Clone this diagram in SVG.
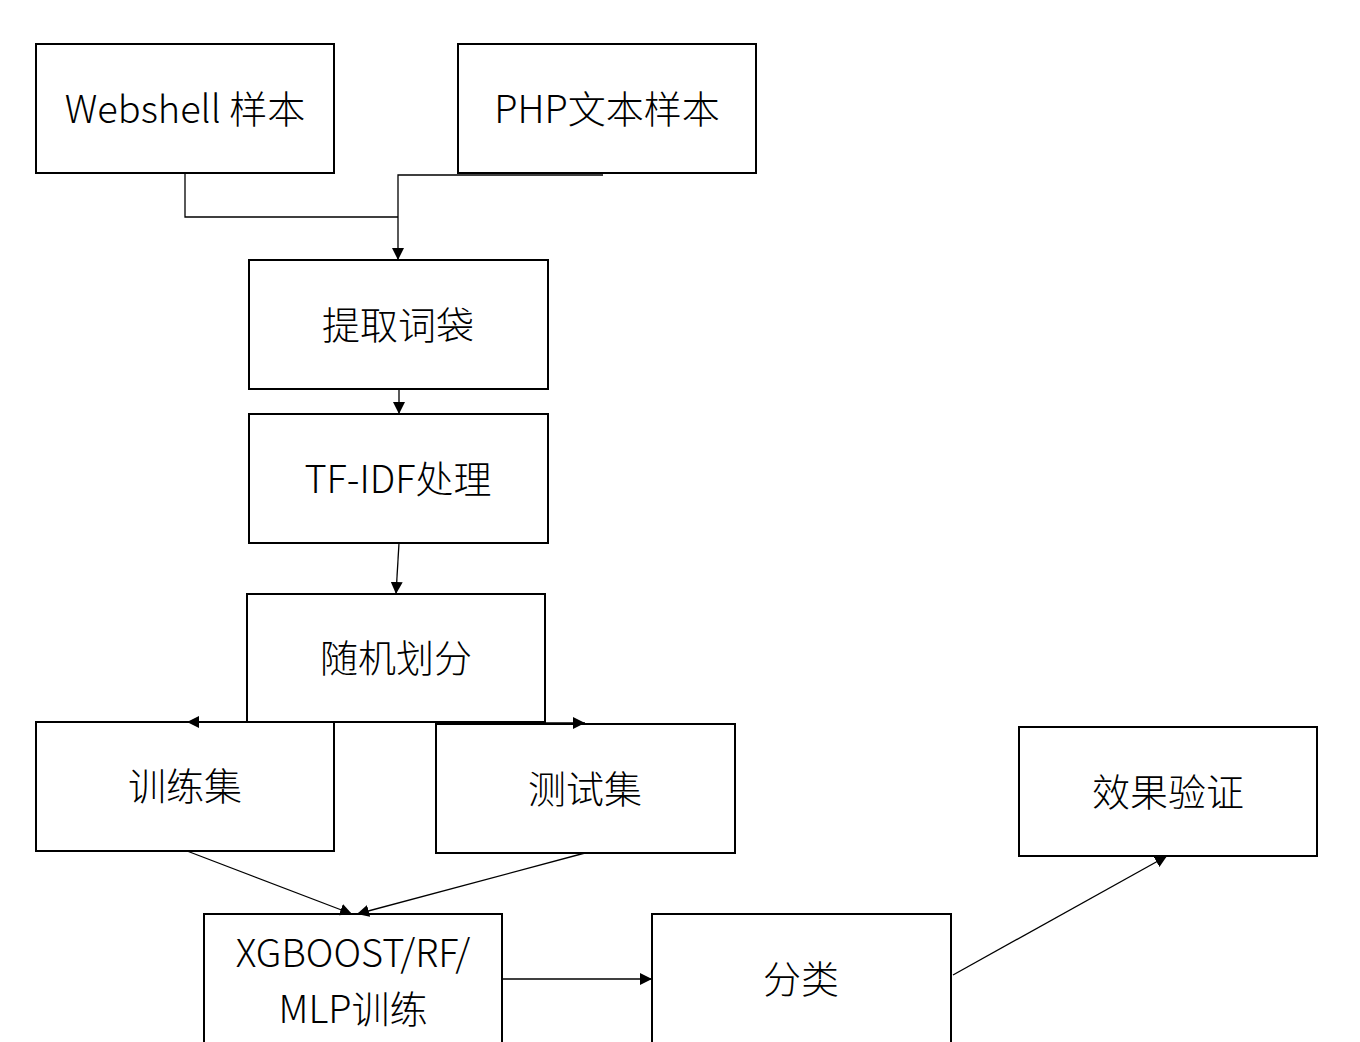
<svg xmlns="http://www.w3.org/2000/svg" width="1360" height="1042" viewBox="0 0 1360 1042">
<style>
.box{fill:#fff;stroke:#000;stroke-width:2}
.lbl{font-family:"Noto Sans CJK SC","Noto Sans",sans-serif;font-size:38px;font-weight:300;fill:#000;text-anchor:middle;dominant-baseline:central}
.c{fill:none;stroke:#000;stroke-width:1.3}
</style>
<defs>
<marker id="ah" viewBox="0 0 10 10" refX="10" refY="5" markerWidth="12" markerHeight="12" markerUnits="userSpaceOnUse" orient="auto">
<path d="M0,0 L10,5 L0,10 z" fill="#000"/>
</marker>
</defs>
<rect width="1360" height="1042" fill="#fff"/>
<g id="n1"><rect class="box" x="36" y="44" width="298" height="129"/><text class="lbl" x="185" y="106">Webshell 样本</text></g>
<g id="n2"><rect class="box" x="458" y="44" width="298" height="129"/><text class="lbl" x="607" y="106">PHP文本样本</text></g>
<g id="n3"><rect class="box" x="249" y="260" width="299" height="129"/><text class="lbl" x="398" y="322">提取词袋</text></g>
<g id="n4"><rect class="box" x="249" y="414" width="299" height="129"/><text class="lbl" x="398" y="476">TF-IDF处理</text></g>
<g id="n5"><rect class="box" x="247" y="594" width="298" height="128"/><text class="lbl" x="396" y="655">随机划分</text></g>
<g id="n6"><rect class="box" x="36" y="722" width="298" height="129"/><text class="lbl" x="185" y="783">训练集</text></g>
<g id="n7"><rect class="box" x="436" y="724" width="299" height="129"/><text class="lbl" x="585" y="786">测试集</text></g>
<g id="n8"><rect class="box" x="1019" y="727" width="298" height="129"/><text class="lbl" x="1168" y="789">效果验证</text></g>
<g id="n9"><rect class="box" x="204" y="914" width="298" height="150"/><text class="lbl"><tspan x="353" y="950">XGBOOST/RF/</tspan><tspan x="353" y="1006">MLP训练</tspan></text></g>
<g id="n10"><rect class="box" x="652" y="914" width="299" height="150"/><text class="lbl" x="801" y="976">分类</text></g>
<g id="connectors">
<path class="c" d="M185,173 V217 H398"/>
<path class="c" d="M603,175 H398 V260" marker-end="url(#ah)"/>
<path class="c" d="M399,389 V414" marker-end="url(#ah)"/>
<path class="c" d="M399,543 L396,594" marker-end="url(#ah)"/>
<path class="c" d="M247,722 H187" marker-end="url(#ah)" stroke-width="2"/>
<path class="c" d="M545,723 H585" marker-end="url(#ah)" stroke-width="2"/>
<path class="c" d="M187,851 L352,914" marker-end="url(#ah)"/>
<path class="c" d="M585,853 L357,914" marker-end="url(#ah)"/>
<path class="c" d="M502,979 H652" marker-end="url(#ah)"/>
<path class="c" d="M953,975 L1167,856" marker-end="url(#ah)"/>
</g>
</svg>
